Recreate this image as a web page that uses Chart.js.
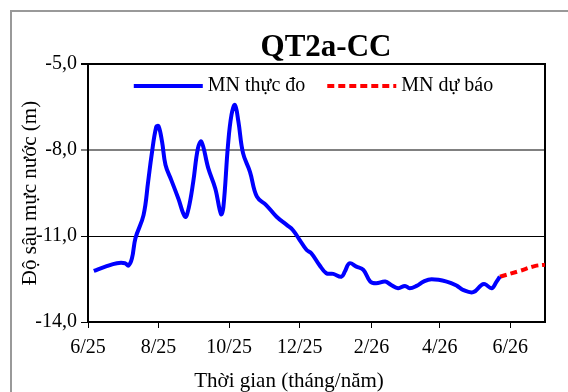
<!DOCTYPE html>
<html><head><meta charset="utf-8">
<script src="https://cdn.jsdelivr.net/npm/chart.js@4.4.1/dist/chart.umd.min.js"></script>
<style>html,body{margin:0;padding:0;background:#fff;overflow:hidden}canvas{display:block}</style>
</head><body>
<canvas id="c" width="568" height="392"></canvas>
<script>
const chartTitle = 'QT2a-CC';
const xAxisTitle = 'Thời gian (tháng/năm)';
const yAxisTitle = 'Độ sâu mực nước (m)';
const seriesNames = ['MN thực đo', 'MN dự báo'];
const startDate = '2025-06-01';
const endDate = '2026-07-01';
const tickDates = ['2025-06-01','2025-08-01','2025-10-01','2025-12-01','2026-02-01','2026-04-01','2026-06-01'];
const tickLabels = ['6/25','8/25','10/25','12/25','2/26','4/26','6/26'];
const yTicks = [-14, -11, -8, -5];

const observedDates = [
 '2025-06-06','2025-06-16','2025-06-26','2025-07-03','2025-07-06','2025-07-09','2025-07-12','2025-07-19',
 '2025-07-23','2025-07-26','2025-07-30','2025-08-01','2025-08-04','2025-08-07','2025-08-12','2025-08-18',
 '2025-08-24','2025-08-27','2025-08-31','2025-09-04','2025-09-07','2025-09-13','2025-09-19','2025-09-24',
 '2025-09-26','2025-09-30','2025-10-03','2025-10-06','2025-10-09','2025-10-13','2025-10-19','2025-10-25',
 '2025-11-02','2025-11-11','2025-11-20','2025-11-25','2025-12-01','2025-12-07','2025-12-11','2025-12-18',
 '2025-12-24','2025-12-30','2026-01-06','2026-01-09','2026-01-13','2026-01-19','2026-01-25','2026-01-31',
 '2026-02-05','2026-02-13','2026-02-18','2026-02-24','2026-03-02','2026-03-06','2026-03-12','2026-03-18',
 '2026-03-25','2026-04-07','2026-04-16','2026-04-21','2026-04-30','2026-05-07','2026-05-10','2026-05-16',
 '2026-05-20','2026-05-23'
];
const observedValues = [
 -12.22,-12.07,-11.95,-11.95,-12.03,-11.78,-11.08,-10.27,
 -9.10,-8.17,-7.19,-7.17,-7.71,-8.52,-9.05,-9.68,
 -10.33,-10.03,-9.10,-7.94,-7.71,-8.64,-9.34,-10.24,
 -10.00,-7.83,-6.78,-6.43,-7.01,-8.11,-8.76,-9.63,
 -9.92,-10.33,-10.62,-10.79,-11.14,-11.49,-11.60,-12.01,
 -12.30,-12.32,-12.42,-12.24,-11.95,-12.07,-12.18,-12.59,
 -12.65,-12.59,-12.71,-12.82,-12.74,-12.82,-12.74,-12.59,
 -12.51,-12.59,-12.74,-12.88,-12.96,-12.71,-12.68,-12.82,
 -12.60,-12.42
];
const forecastDates = ['2026-05-23','2026-06-09','2026-06-22','2026-07-01'];
const forecastValues = [-12.42,-12.22,-12.05,-12.00];

const FONT = "'Liberation Serif', 'Times New Roman', serif";
function dayOf(s){ const p = s.split('-').map(Number); return (Date.UTC(p[0],p[1]-1,p[2]) - Date.UTC(2025,5,1)) / 86400000; }
function pts(dates, vals){ return dates.map((d,i)=>({x: dayOf(d), y: vals[i]})); }

const decor = {
  id: 'decor',
  beforeDraw(chart){
    const ctx = chart.ctx;
    ctx.save();
    ctx.fillStyle = '#fff';
    ctx.fillRect(0,0,chart.width,chart.height);
    ctx.strokeStyle = '#999999';
    ctx.lineWidth = 2;
    ctx.strokeRect(11, 11, 700, 500);
    ctx.restore();
  },
  afterDraw(chart){
    const ctx = chart.ctx, a = chart.chartArea;
    ctx.save();
    ctx.fillStyle = '#000';
    ctx.textAlign = 'center';
    ctx.textBaseline = 'alphabetic';
    ctx.font = 'bold 31px ' + FONT;
    ctx.fillText(chartTitle, 326, 56);
    ctx.font = '21px ' + FONT;
    ctx.fillText(xAxisTitle, 289, 387);
    ctx.save();
    ctx.translate(30, (a.top + a.bottom) / 2);
    ctx.rotate(-Math.PI/2);
    ctx.textBaseline = 'middle';
    ctx.fillText(yAxisTitle, 0, 0);
    ctx.restore();
    // legend
    ctx.font = '20px ' + FONT;
    const lineW = 69, gapText = 5, gapItem = 22;
    const ds = chart.data.datasets;
    const widths = ds.map(d => lineW + gapText + ctx.measureText(d.label).width);
    const total = widths.reduce((s,w)=>s+w,0) + gapItem*(ds.length-1);
    let x = (a.left + a.right)/2 - total/2 - 3;
    const y = 86;
    ds.forEach((d,i)=>{
      ctx.save();
      ctx.strokeStyle = d.borderColor;
      ctx.lineWidth = d.borderWidth;
      ctx.setLineDash(d.borderDash || []);
      ctx.beginPath(); ctx.moveTo(x, y); ctx.lineTo(x+lineW, y); ctx.stroke();
      ctx.restore();
      ctx.textAlign = 'left';
      ctx.textBaseline = 'middle';
      ctx.fillStyle = '#000';
      ctx.fillText(d.label, x + lineW + gapText, y);
      x += widths[i] + gapItem;
    });
    ctx.restore();
  }
};

new Chart(document.getElementById('c'), {
  type: 'line',
  data: {
    datasets: [
      {label: seriesNames[0], data: pts(observedDates, observedValues), borderColor: '#0000ff', borderWidth: 4, pointRadius: 0, tension: 0.4, fill: false},
      {label: seriesNames[1], data: pts(forecastDates, forecastValues), borderColor: '#ff0000', borderWidth: 4, borderDash: [7,4], pointRadius: 0, tension: 0.4, fill: false}
    ]
  },
  options: {
    responsive: false,
    animation: false,
    devicePixelRatio: 1,
    layout: {padding: {left: 0, top: 64, right: 23, bottom: 0}},
    plugins: {legend: {display: false}, title: {display: false}, tooltip: {enabled: false}},
    scales: {
      x: {
        type: 'linear', min: dayOf(startDate), max: dayOf(endDate),
        afterBuildTicks: s => { s.ticks = tickDates.map(d => ({value: dayOf(d)})); },
        afterFit: s => { s.height = 70; },
        ticks: {autoSkip: false, maxRotation: 0, color: '#000', font: {family: FONT, size: 20}, padding: 8,
                callback: (v, i) => tickLabels[i]},
        grid: {drawOnChartArea: false, drawTicks: true, tickLength: 6, color: '#000', lineWidth: 1},
        border: {display: true, color: '#000', width: 2}
      },
      y: {
        type: 'linear', min: -14, max: -5,
        afterBuildTicks: s => { s.ticks = yTicks.map(v => ({value: v})); },
        afterFit: s => { s.width = 88; },
        ticks: {color: '#000', font: {family: FONT, size: 20}, padding: 4,
                callback: v => v.toFixed(1).replace('.', ',')},
        grid: {
          color: c => (c.tick && c.tick.value === -8) ? '#808080' : '#000',
          lineWidth: c => (c.tick && (c.tick.value === -8 || c.tick.value === -5)) ? 2 : 1,
          tickLength: 7
        },
        border: {display: true, color: '#000', width: 2}
      },
      y2: {
        type: 'linear', position: 'right', min: 0, max: 1,
        afterFit: s => { s.width = 0; },
        ticks: {display: false},
        grid: {display: false, drawTicks: false},
        border: {display: true, color: '#000', width: 2}
      }
    }
  },
  plugins: [decor]
});
</script>
</body></html>
